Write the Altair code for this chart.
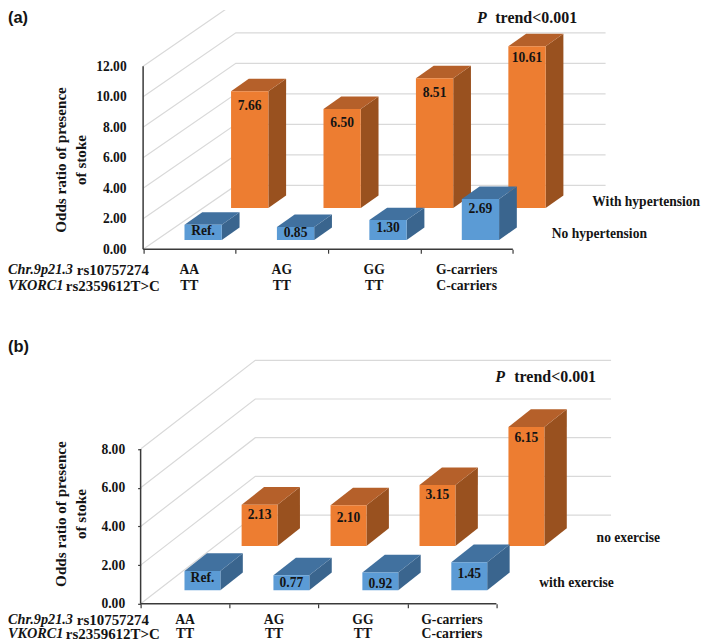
import altair as alt
import pandas as pd

# ---- values
groups_top = ["AA", "AG", "GG", "G-carriers"]
groups_bottom = ["TT", "TT", "TT", "C-carriers"]

a_hyper = [7.66, 6.50, 8.51, 10.61]
a_nohyper = [1.00, 0.85, 1.30, 2.69]
a_hyper_text = ["7.66", "6.50", "8.51", "10.61"]
a_nohyper_text = ["Ref.", "0.85", "1.30", "2.69"]
a_ticks = [0, 2, 4, 6, 8, 10, 12]

b_noex = [2.13, 2.10, 3.15, 6.15]
b_ex = [1.00, 0.77, 0.92, 1.45]
b_noex_text = ["2.13", "2.10", "3.15", "6.15"]
b_ex_text = ["Ref.", "0.77", "0.92", "1.45"]
b_ticks = [0, 2, 4, 6, 8]

# ---- styling
SERIF = "Liberation Serif"
SANS = "Liberation Sans"
INK = "#141414"
AXIS = "#3a3a3a"
GRID = "#d9d9d9"
ORANGE = dict(front="#ED7D31", top="#B5602A", side="#99511F")
BLUE = dict(front="#5B9BD5", top="#41719F", side="#3A658E")
PLOT_LEFT = 141.0  # page x of every panel's plot origin
PLOT_W = 559


def panel(cfg):
    ux, uy = cfg["ux"], cfg["uy"]
    ax0, ay0 = cfg["axis_x"], cfg["axis_y"]
    X = lambda page: (page - ax0) / ux
    Y = lambda page: (ay0 - page) / uy

    xs = alt.Scale(domain=[X(PLOT_LEFT), X(PLOT_LEFT + PLOT_W)], nice=False, zero=False)
    ys = alt.Scale(domain=[0, cfg["height"] / uy], nice=False, zero=False)
    xax = alt.Axis(values=[0, 1, 2, 3, 4], labels=False, domain=False, grid=False,
                   ticks=True, tickSize=4, tickColor=AXIS, tickWidth=1.2, title=None)
    yax = alt.Axis(
        values=cfg["ticks"], format=".2f", domain=False, grid=False,
        ticks=cfg["ytick"] > 0, tickSize=max(cfg["ytick"], 1), tickColor=AXIS,
        tickWidth=1.2, offset=PLOT_LEFT - ax0,
        labelFont=SERIF, labelFontWeight="bold", labelFontSize=13.6, labelColor=INK,
        labelPadding=cfg["ylabpad"],
        title=["Odds ratio of presence", "of stoke"],
        titleFont=SERIF, titleFontWeight="bold", titleFontSize=15.2, titleColor=INK,
        titleAngle=270, titleLineHeight=20, titleBaseline="alphabetic",
        titleAlign="center",
        titleX=cfg["title_x"], titleY=cfg["title_y"],
    )

    def enc(**kw):
        e = dict(
            x=alt.X("x:Q", scale=xs, axis=xax),
            y=alt.Y("y:Q", scale=ys, axis=yax),
        )
        e.update(kw)
        return e

    # back wall gridlines
    grid_rows = []
    wall_dx, wall_dy = cfg["wall_dx"] / ux, cfg["wall_dy"] / uy
    for t in cfg["ticks"]:
        grid_rows += [
            dict(t=t, o=0, x=0, y=t),
            dict(t=t, o=1, x=wall_dx, y=t + wall_dy),
            dict(t=t, o=2, x=wall_dx + 4, y=t + wall_dy),
        ]
    grid = (
        alt.Chart(pd.DataFrame(grid_rows))
        .mark_line(color=GRID, strokeWidth=1.2, clip=True)
        .encode(**enc(detail="t:N", order="o:Q"))
    )

    def bars(values, left0, base, palette):
        w, dx, dy = cfg["bar_w"] / ux, cfg["dep_x"] / ux, cfg["dep_y"] / uy
        fr, si, to = [], [], []
        for i, v in enumerate(values):
            l, r = i + left0, i + left0 + w
            top = base + v
            fr.append(dict(x=l, x2=r, y=base, y2=top))
            si += [
                dict(b=i, x=r, y=base, y2=top),
                dict(b=i, x=r + dx, y=base + dy, y2=top + dy),
            ]
            to += [
                dict(b=i, y=top, x=l, x2=r),
                dict(b=i, y=top + dy, x=l + dx, x2=r + dx),
            ]
        side = alt.Chart(pd.DataFrame(si)).mark_area(
            color=palette["side"], orient="vertical", line=False
        ).encode(**enc(y2="y2:Q", detail="b:N"))
        tp = alt.Chart(pd.DataFrame(to)).mark_area(
            color=palette["top"], orient="horizontal", line=False
        ).encode(**enc(x2="x2:Q", detail="b:N"))
        front = alt.Chart(pd.DataFrame(fr)).mark_rect(color=palette["front"]).encode(
            **enc(x2="x2:Q", y2="y2:Q")
        )
        return [side, tp, front]

    def bar_labels(values, texts, left0, base, drops):
        w = cfg["bar_w"] / ux
        rows = [
            dict(x=i + left0 + w / 2, y=base + v - d / uy, s=s)
            for i, (v, s, d) in enumerate(zip(values, texts, drops))
        ]
        return alt.Chart(pd.DataFrame(rows)).mark_text(
            font=SERIF, fontWeight="bold", fontSize=13.6, color=INK, baseline="middle", align="center"
        ).encode(**enc(text="s:N"))

    back_left = X(cfg["back_x"])
    front_left = X(cfg["front_x"])
    back_base = Y(cfg["back_base"])
    front_base = Y(cfg["front_base"])

    axis_rules = [
        alt.Chart(pd.DataFrame([dict(x=0, x2=4, y=0)])).mark_rule(color=AXIS, strokeWidth=1.5).encode(
            **enc(x2="x2:Q")
        ),
        alt.Chart(pd.DataFrame([dict(x=0, y=0, y2=max(cfg["ticks"]))])).mark_rule(
            color=AXIS, strokeWidth=1.5
        ).encode(**enc(y2="y2:Q")),
    ]

    # annotations
    def note(rows, **style):
        df = pd.DataFrame([dict(x=X(px), y=Y(py), s=s) for px, py, s in rows])
        st = dict(font=SERIF, fontWeight="bold", color=INK, baseline="middle", align="left")
        st.update(style)
        return alt.Chart(df).mark_text(**st).encode(**enc(text="s:N"))

    cat_rows = []
    for i, (t, b) in enumerate(zip(groups_top, groups_bottom)):
        cat_rows.append(dict(x=i + 0.5, y=Y(cfg["lab_y1"]), s=t))
        cat_rows.append(dict(x=i + 0.5, y=Y(cfg["lab_y2"]), s=b))
    cats = alt.Chart(pd.DataFrame(cat_rows)).mark_text(
        font=SERIF, fontWeight="bold", fontSize=13.7, color=INK, baseline="middle", align="center"
    ).encode(**enc(text="s:N"))

    notes = [
        note([(8, cfg["lab_y1"], "Chr.9p21.3"), (8, cfg["lab_y2"], "VKORC1")], fontSize=14.3, fontStyle="italic"),
        note([(77, cfg["lab_y1"], "rs10757274"), (66, cfg["lab_y2"], "rs2359612T>C")], fontSize=15),
        note(cfg["legend"], fontSize=13.6),
        note([(cfg["p_x"], cfg["p_y"], "P")], fontSize=16, fontStyle="italic"),
        note([(cfg["trend_x"], cfg["p_y"], "trend<0.001")], fontSize=16),
        note([(8, cfg["tag_y"], cfg["tag"])], font=SANS, fontSize=16.5),
    ]

    layers = (
        [grid]
        + bars(cfg["back"], back_left, back_base, ORANGE)
        + bars(cfg["front"], front_left, front_base, BLUE)
        + [
            bar_labels(cfg["back"], cfg["back_text"], back_left, back_base, cfg["back_drop"]),
            bar_labels(cfg["front"], cfg["front_text"], front_left, front_base, cfg["front_drop"]),
            cats,
        ]
        + axis_rules
        + notes
    )
    return alt.layer(*layers).properties(width=PLOT_W, height=cfg["height"])


panel_a = panel(dict(
    ux=92.7, uy=15.3, axis_x=143.5, axis_y=248.0, height=240,
    ticks=a_ticks, ytick=0, ylabpad=17, title_x=-78, title_y=150,
    wall_dx=93, wall_dy=64,
    bar_w=37.4, dep_x=17.8, dep_y=12.5,
    back_x=231.7, back_base=206.7, front_x=185.0, front_base=238.7,
    back=a_hyper, front=a_nohyper, back_text=a_hyper_text, front_text=a_nohyper_text,
    back_drop=[15, 14.3, 14.7, 11.7], front_drop=[6, 6, 8, 10],
    lab_y1=269, lab_y2=285,
    legend=[(594, 200.7, "With hypertension"), (553.3, 232.3, "No hypertension")],
    p_x=478.3, trend_x=496.7, p_y=16, tag="(a)", tag_y=16,
))

panel_b = panel(dict(
    ux=89.2, uy=19.4, axis_x=141.0, axis_y=601.3, height=265,
    ticks=b_ticks, ytick=3, ylabpad=13, title_x=-75, title_y=174.5,
    wall_dx=115, wall_dy=89,
    bar_w=36, dep_x=22.5, dep_y=17.7,
    back_x=242.3, back_base=543.3, front_x=185.0, front_base=587.7,
    back=b_noex, front=b_ex, back_text=b_noex_text, front_text=b_ex_text,
    back_drop=[10.7, 12.3, 10, 10.7], front_drop=[7.3, 7.7, 11.7, 11.7],
    lab_y1=617.5, lab_y2=632,
    legend=[(598.3, 535, "no exercise"), (540.7, 580, "with exercise")],
    p_x=496.7, trend_x=515.7, p_y=374, tag="(b)", tag_y=344,
))

chart = alt.vconcat(panel_a, panel_b, spacing=44.6, padding=0, background="white").configure_view(stroke=None)
chart.save("out.html", embed_options={"renderer": "svg", "actions": False})
